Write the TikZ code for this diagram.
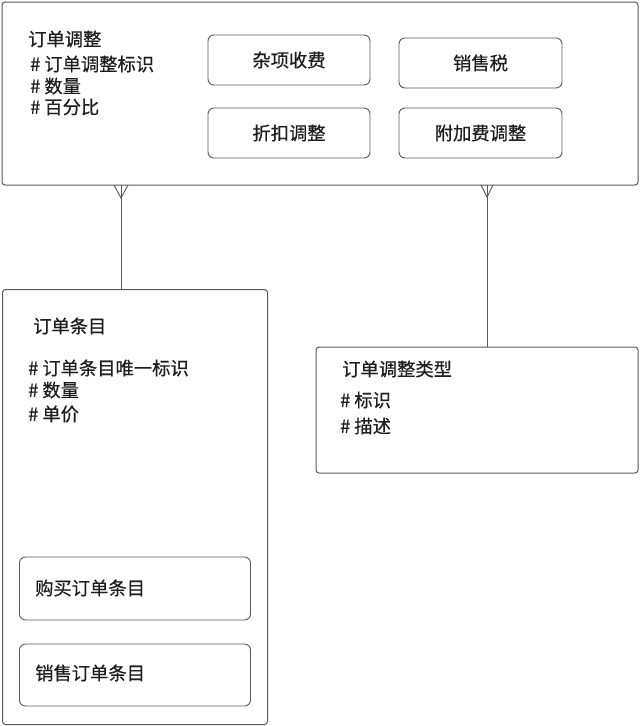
\documentclass[tikz,border=0pt]{standalone}
\usepackage{fontspec}
\setmainfont{Noto Sans CJK SC}[FakeBold=0.5]
\usetikzlibrary{calc}
\definecolor{edge}{HTML}{5A5A5A}
\definecolor{ink}{HTML}{1E1E1E}
\newcommand{\hs}{\#\hspace{4pt}}
\begin{document}
\begin{tikzpicture}[x=1pt,y=-1pt,
  outerbox/.style={draw=edge,line width=1pt,rounded corners=3pt,inner sep=0pt},
  subbox/.style={draw=edge,line width=0.9pt,rounded corners=6pt,inner sep=0pt,text=ink,font=\fontsize{18.3}{21}\selectfont},
  lbl/.style={anchor=west,inner sep=0pt,text=ink,font=\fontsize{18.3}{21}\selectfont},
  conn/.style={draw=edge,line width=0.9pt}]
\useasboundingbox (0,0) rectangle (640,726);
\fill[white] (0,0) rectangle (640,726);

% top box
\node[outerbox,minimum width=636pt,minimum height=183pt] (top) at (320,93.5) {};
\node[lbl] (t0) at (28,39) {订单调整};
\node[lbl] (t1) at (30,64) {\hs 订单调整标识};
\node[lbl] (t2) at (30,86) {\hs 数量};
\node[lbl] (t3) at (30,107) {\hs 百分比};
\node[subbox,minimum width=162pt,minimum height=50pt] (s1) at (289,60) {杂项收费};
\node[subbox,minimum width=163pt,minimum height=50pt] (s2) at (480.5,63) {销售税};
\node[subbox,minimum width=162pt,minimum height=50pt] (s3) at (289,133) {折扣调整};
\node[subbox,minimum width=163pt,minimum height=50pt] (s4) at (480.5,133) {附加费调整};

% order item box
\node[outerbox,minimum width=265pt,minimum height=435pt] (item) at (135,507) {};
\node[lbl] (i0) at (33,326) {订单条目};
\node[lbl] (i1) at (28,368) {\hs 订单条目唯一标识};
\node[lbl] (i2) at (28,390) {\hs 数量};
\node[lbl] (i3) at (28,414) {\hs 单价};
\node[subbox,minimum width=231pt,minimum height=63pt] (p1) at (135,588.5) {};
\node[lbl] (p1t) at (35,588) {购买订单条目};
\node[subbox,minimum width=231pt,minimum height=62pt] (p2) at (135,675) {};
\node[lbl] (p2t) at (35,673) {销售订单条目};

% adjustment type box
\node[outerbox,minimum width=322pt,minimum height=126pt] (type) at (477,410) {};
\node[lbl] (y0) at (342,369) {订单调整类型};
\node[lbl] (y1) at (340,400) {\hs 标识};
\node[lbl] (y2) at (340,426) {\hs 描述};

% connectors with crow's feet
\coordinate (f1) at (121,185);
\coordinate (f2) at (487,185);
\draw[conn] (f1) -- (f1 |- item.north);
\draw[conn] ($(f1)+(-7,0)$) -- ($(f1)+(0,13)$) -- ($(f1)+(7,0)$);
\draw[conn] (f2) -- (f2 |- type.north);
\draw[conn] ($(f2)+(-6,0)$) -- ($(f2)+(0,12)$) -- ($(f2)+(6,0)$);
\end{tikzpicture}
\end{document}
